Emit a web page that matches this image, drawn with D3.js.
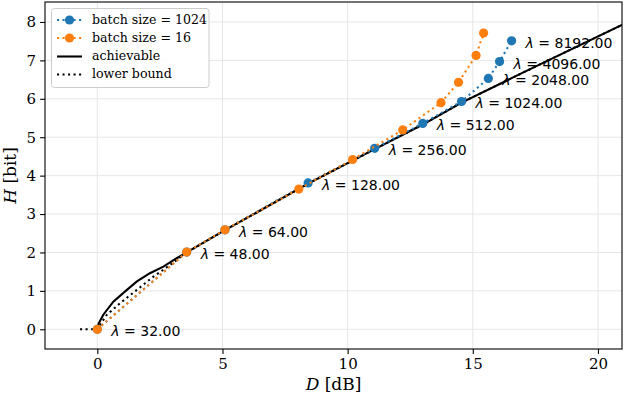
<!DOCTYPE html>
<html><head><meta charset="utf-8">
<script src="https://cdn.jsdelivr.net/npm/d3@7"></script>
<style>body{margin:0;background:#fff}svg{display:block}</style>
</head><body>
<svg id="c" width="624" height="394"></svg>
<script>
// ---- data ----
const lambdas = [32, 48, 64, 128, 256, 512, 1024, 2048, 4096, 8192];
const blueD = [0, 3.57, 5.1, 8.42, 11.08, 13.0, 14.55, 15.62, 16.07, 16.55];
const blueH = [0, 2.01, 2.59, 3.81, 4.71, 5.36, 5.93, 6.53, 6.97, 7.51];
const orangeD = [0, 3.57, 5.1, 8.05, 10.2, 12.2, 13.73, 14.43, 15.13, 15.43];
const orangeH = [0, 2.01, 2.59, 3.65, 4.42, 5.19, 5.90, 6.43, 7.13, 7.71];
const achD = [0, 0.01, 0.06, 0.24, 0.64, 1.17, 1.57, 2.1, 2.64, 3.17, 3.57, 5.1, 8.42, 11.08, 13.0, 14.55, 17.0, 21.2];
const achH = [0, 0.06, 0.16, 0.38, 0.72, 1.02, 1.24, 1.46, 1.63, 1.85, 2.0, 2.58, 3.79, 4.69, 5.33, 5.90, 6.68, 8.0];
const lbD = [-0.69, 0, 0.37, 0.91, 1.57, 2.24, 2.9, 3.57, 5.1, 8.42, 11.08, 13.0, 14.55, 17.0, 21.2];
const lbH = [0, 0, 0.37, 0.68, 1.02, 1.37, 1.67, 2.0, 2.58, 3.79, 4.69, 5.33, 5.90, 6.68, 8.0];
const xTicks = [0, 5, 10, 15, 20];
const yTicks = [0, 1, 2, 3, 4, 5, 6, 7, 8];
const legendLabels = ["batch size = 1024", "batch size = 16", "achievable", "lower bound"];

// ---- layout ----
const L = 45, R = 622, T = 2, B = 349;
const x = d3.scaleLinear().domain([-2.09, 20.96]).range([L, R]);
const y = d3.scaleLinear().domain([-0.513, 8.52]).range([B, T]);
const svg = d3.select("#c");
const serif = "DejaVu Serif";
const blue = "#1f77b4", orange = "#ff7f0e";
const lw = 2.08;
const dotDash = [lw * 1, lw * 1.65].join(",");

svg.append("defs").append("clipPath").attr("id", "clip")
  .append("rect").attr("x", L).attr("y", T).attr("width", R - L).attr("height", B - T);

// grid
const g = svg.append("g");
g.selectAll(".gx").data(xTicks).join("line")
  .attr("x1", d => x(d)).attr("x2", d => x(d)).attr("y1", T).attr("y2", B)
  .attr("stroke", "#e6e6e6").attr("stroke-width", 1);
g.selectAll(".gy").data(yTicks).join("line")
  .attr("y1", d => y(d)).attr("y2", d => y(d)).attr("x1", L).attr("x2", R)
  .attr("stroke", "#e6e6e6").attr("stroke-width", 1);

const plot = svg.append("g").attr("clip-path", "url(#clip)");
const line = d3.line().x(d => x(d[0])).y(d => y(d[1]));
const zip = (a, b) => a.map((v, i) => [v, b[i]]);

plot.append("path").datum(zip(achD, achH)).attr("d", line)
  .attr("fill", "none").attr("stroke", "#000").attr("stroke-width", lw);
plot.append("path").datum(zip(lbD, lbH)).attr("d", line)
  .attr("fill", "none").attr("stroke", "#000").attr("stroke-width", lw)
  .attr("stroke-dasharray", dotDash);

function series(D, H, col) {
  const pts = zip(D, H);
  plot.append("path").datum(pts).attr("d", line)
    .attr("fill", "none").attr("stroke", col).attr("stroke-width", lw)
    .attr("stroke-dasharray", dotDash);
  plot.selectAll(null).data(pts).join("circle")
    .attr("cx", d => x(d[0])).attr("cy", d => y(d[1])).attr("r", 4.6).attr("fill", col);
}
series(blueD, blueH, blue);
series(orangeD, orangeH, orange);

// lambda labels
const lab = svg.append("g").attr("font-family", "DejaVu Sans").attr("font-size", 14);
lambdas.forEach((lv, i) => {
  const t = lab.append("text").attr("x", x(blueD[i]) + 14).attr("y", y(blueH[i]) + 3)
    .attr("dominant-baseline", "middle");
  t.append("tspan").attr("font-style", "italic").text("λ");
  t.append("tspan").text(" = " + lv.toFixed(2));
});

// axes
const ax = svg.append("g").attr("transform", `translate(0,${B})`)
  .call(d3.axisBottom(x).tickValues(xTicks).tickSize(4.9).tickPadding(4).tickFormat(d3.format("d")));
const ay = svg.append("g").attr("transform", `translate(${L},0)`)
  .call(d3.axisLeft(y).tickValues(yTicks).tickSize(4.9).tickPadding(4).tickFormat(d3.format("d")));
[ax, ay].forEach(a => {
  a.select(".domain").remove();
  a.selectAll("line").attr("stroke", "#000").attr("stroke-width", 1.1);
  a.selectAll("text").attr("font-family", serif).attr("font-size", 15).attr("fill", "#000");
});
svg.append("rect").attr("x", L).attr("y", T).attr("width", R - L).attr("height", B - T)
  .attr("fill", "none").attr("stroke", "#000").attr("stroke-width", 1.1);

// axis labels
const xl = svg.append("text").attr("x", (L + R) / 2).attr("y", 390).attr("text-anchor", "middle")
  .attr("font-family", serif).attr("font-size", 17);
xl.append("tspan").attr("font-style", "italic").text("D");
xl.append("tspan").text(" [dB]");
const yl = svg.append("text").attr("transform", `translate(16,${(T + B) / 2}) rotate(-90)`)
  .attr("text-anchor", "middle").attr("font-family", serif).attr("font-size", 17);
yl.append("tspan").attr("font-style", "italic").text("H");
yl.append("tspan").text(" [bit]");

// legend
const lg = svg.append("g");
lg.append("rect").attr("x", 51.5).attr("y", 8.5).attr("width", 157.5).attr("height", 79)
  .attr("rx", 3).attr("fill", "#fff").attr("fill-opacity", 0.8).attr("stroke", "#cccccc");
const rowsY = [20, 38, 56.5, 74.5];
const hx1 = 57, hx2 = 82;
const styles = [
  {col: blue, dash: true, marker: true},
  {col: orange, dash: true, marker: true},
  {col: "#000", dash: false, marker: false},
  {col: "#000", dash: true, marker: false}
];
styles.forEach((s, i) => {
  lg.append("line").attr("x1", hx1).attr("x2", hx2).attr("y1", rowsY[i]).attr("y2", rowsY[i])
    .attr("stroke", s.col).attr("stroke-width", lw).attr("stroke-dasharray", s.dash ? dotDash : null);
  if (s.marker) lg.append("circle").attr("cx", (hx1 + hx2) / 2).attr("cy", rowsY[i]).attr("r", 4.6).attr("fill", s.col);
  lg.append("text").attr("x", 92).attr("y", rowsY[i]).attr("dominant-baseline", "middle")
    .attr("font-family", serif).attr("font-size", 12.6).text(legendLabels[i]);
});
</script>
</body></html>
